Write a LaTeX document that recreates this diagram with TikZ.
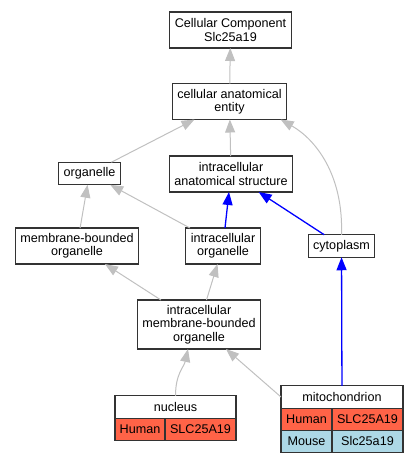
\documentclass[tikz,border=0pt]{standalone}
\usepackage{fontspec}
\setmainfont{Liberation Sans}
\usetikzlibrary{arrows.meta}
\definecolor{humanred}{HTML}{FF6347}
\definecolor{mouseblue}{HTML}{ADD8E6}
\definecolor{edgegray}{HTML}{C0C0C0}

\begin{document}
\begin{tikzpicture}[
        x=1pt, y=-1pt,
        font=\fontsize{12.6}{13.3}\selectfont,
        termnode/.style = {rectangle, draw=black!80, line width=1.1pt, fill=white, align=center, inner xsep=5pt, inner ysep=0pt, outer sep=0pt},
        oneline/.style = {minimum height=22.5pt},
        twoline/.style = {minimum height=36pt},
        threeline/.style = {minimum height=49pt},
        cell/.style = {termnode, minimum height=22pt, inner xsep=3pt, anchor=north west},
        arrow/.style = {-{Triangle[length=13pt,width=10pt]}, draw=edgegray, line width=1pt},
        bluearrow/.style = {arrow, draw=blue, line width=1.3pt}
        ]
        \useasboundingbox (0,0) rectangle (419,461);

        \node[termnode, twoline] (cc) at (230.5,30) {Cellular Component\\Slc25a19};
        \node[termnode, twoline] (cae) at (229.5,101.5) {cellular anatomical\\entity};
        \node[termnode, oneline] (org) at (89.5,173.5) {organelle};
        \node[termnode, twoline] (ias) at (231,174) {intracellular\\anatomical structure};
        \node[termnode, twoline] (mbo) at (77,246) {membrane-bounded\\organelle};
        \node[termnode, twoline] (io) at (223,246) {intracellular\\organelle};
        \node[termnode, oneline] (cyto) at (341.5,246) {cytoplasm};
        \node[termnode, threeline] (imbo) at (199,324.5) {intracellular\\membrane-bounded\\organelle};

        % gene tables
        \node[termnode, oneline, minimum width=121pt] (nuc) at (175.5,407) {nucleus};
        \node[cell, fill=humanred, minimum width=50pt] (nuchuman) at (nuc.south west) {Human};
        \node[cell, fill=humanred, minimum width=71pt] (nucgene) at (nuchuman.north east) {SLC25A19};

        \node[termnode, oneline, minimum width=122pt] (mito) at (342,397) {mitochondrion};
        \node[cell, fill=humanred, minimum width=51pt] (mitohuman) at (mito.south west) {Human};
        \node[cell, fill=humanred, minimum width=71pt] (mitohgene) at (mitohuman.north east) {SLC25A19};
        \node[cell, fill=mouseblue, minimum width=51pt] (mitomouse) at (mitohuman.south west) {Mouse};
        \node[cell, fill=mouseblue, minimum width=71pt] (mitomgene) at (mitomouse.north east) {Slc25a19};

        \draw[arrow] (cae) -- (cc);
        \draw[arrow] (org) -- (cae);
        \draw[arrow] (ias) -- (cae);
        \draw[arrow] (cyto.north) .. controls +(2,-60) and +(35,20) .. ([xshift=-6pt]cae.south east);
        \draw[arrow] (mbo) -- (org);
        \draw[arrow] (io) -- (org);
        \draw[bluearrow] (io) -- (ias);
        \draw[bluearrow] (cyto) -- (ias);
        \draw[arrow] (imbo) -- (mbo);
        \draw[arrow] (imbo) -- (io);
        \draw[bluearrow] (mito) -- (cyto);
        \draw[arrow] (nuc.north) .. controls +(0,-22) and +(-4,18) .. ([xshift=-11pt]imbo.south);
        \draw[arrow] (mito.west) -- ([xshift=27pt]imbo.south);
\end{tikzpicture}
\end{document}
